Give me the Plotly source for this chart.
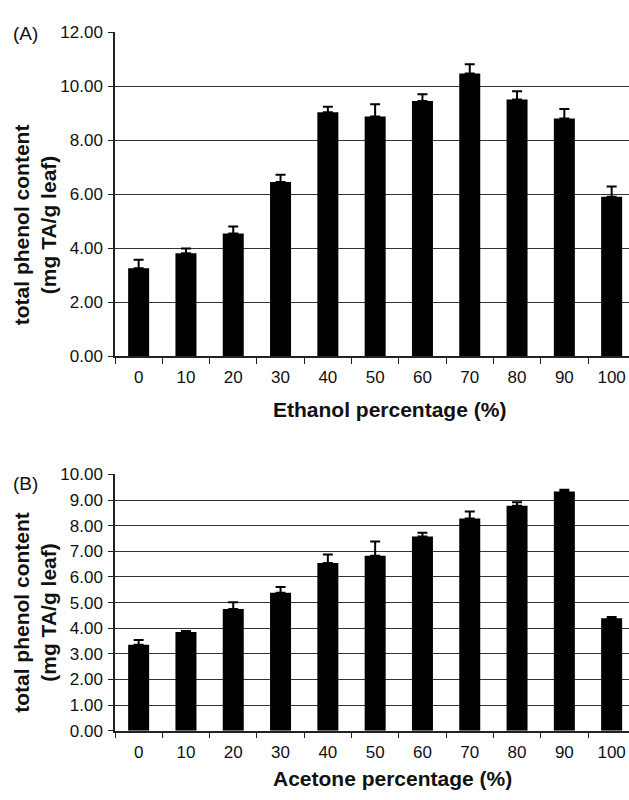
import plotly.graph_objects as go

categories = ["0", "10", "20", "30", "40", "50", "60", "70", "80", "90", "100"]

ethanol_values = [3.26, 3.81, 4.54, 6.45, 9.04, 8.88, 9.46, 10.48, 9.51, 8.81, 5.91]
ethanol_errors = [0.31, 0.18, 0.26, 0.27, 0.20, 0.46, 0.25, 0.34, 0.31, 0.35, 0.38]

acetone_values = [3.35, 3.85, 4.75, 5.38, 6.54, 6.83, 7.58, 8.28, 8.78, 9.33, 4.39]
acetone_errors = [0.19, 0.04, 0.26, 0.23, 0.33, 0.55, 0.14, 0.27, 0.13, 0.07, 0.05]

W, H = 629, 800
FONT = "Liberation Sans, Arial, sans-serif"


def px_x(p):
    return p / W


def px_y(p):
    return 1 - p / H


def bars(values, errors, xa, ya):
    return go.Bar(
        x=categories, y=values, xaxis=xa, yaxis=ya,
        marker=dict(color="black", line=dict(width=0)),
        error_y=dict(type="data", symmetric=False, array=errors,
                     arrayminus=[0] * len(errors),
                     thickness=2, width=5, color="black"),
        showlegend=False,
    )


fig = go.Figure()
fig.add_trace(bars(ethanol_values, ethanol_errors, "x", "y"))
fig.add_trace(bars(acetone_values, acetone_errors, "x2", "y2"))

cat_w = 47.3
x_left = 115
x_range = [-0.5, -0.5 + (W - x_left) / cat_w]

xaxis_common = dict(
    type="category", range=x_range, domain=[px_x(x_left), 1],
    showline=True, linecolor="#222", linewidth=1.5,
    ticks="outside", tickson="boundaries", ticklen=6, tickwidth=1.2,
    tickcolor="#222", showgrid=False, zeroline=False,
    tickfont=dict(family=FONT, size=17, color="#111"),
    ticklabelstandoff=5,
)
yaxis_common = dict(
    showline=True, linecolor="#222", linewidth=1.5,
    ticks="outside", ticklen=5, tickwidth=1.2, tickcolor="#222",
    showgrid=True, gridcolor="#333", gridwidth=1.2,
    zeroline=False, tickformat=".2f",
    tickfont=dict(family=FONT, size=17, color="#111"),
    ticklabelstandoff=2,
)

fig.update_layout(
    width=W, height=H,
    margin=dict(l=0, r=0, t=0, b=0),
    paper_bgcolor="white", plot_bgcolor="white",
    bargap=0.556,
    xaxis=dict(xaxis_common, anchor="y"),
    yaxis=dict(yaxis_common, anchor="x", range=[0, 12], dtick=2,
               domain=[px_y(355.5), px_y(24)]),
    xaxis2=dict(xaxis_common, anchor="y2"),
    yaxis2=dict(yaxis_common, anchor="x2", range=[0, 10], dtick=1,
                domain=[px_y(739.3), px_y(476.7)]),
)

annots = [
    dict(text="(A)", x=px_x(25), y=px_y(25), size=19, angle=0, xanchor="center"),
    dict(text="(B)", x=px_x(25), y=px_y(486), size=19, angle=0, xanchor="center"),
    dict(text="<b>total phenol content<br>(mg TA/g leaf)</b>", x=px_x(35), y=px_y(221.5), size=21, angle=-90, xanchor="center"),
    dict(text="<b>total phenol content<br>(mg TA/g leaf)</b>", x=px_x(35), y=px_y(618.5), size=21, angle=-90, xanchor="center"),
    dict(text="<b>Ethanol percentage (%)</b>", x=px_x(272), y=px_y(410), size=21, angle=0, xanchor="left"),
    dict(text="<b>Acetone percentage (%)</b>", x=px_x(272), y=px_y(788), size=21, angle=0, xanchor="left"),
]
for a in annots:
    fig.add_annotation(
        text=a["text"], x=a["x"], y=a["y"], xref="paper", yref="paper",
        xanchor=a["xanchor"], yanchor="middle", showarrow=False,
        textangle=a["angle"], borderpad=0,
        font=dict(family=FONT, size=a["size"], color="#111"),
    )

fig.write_html("out.html")
